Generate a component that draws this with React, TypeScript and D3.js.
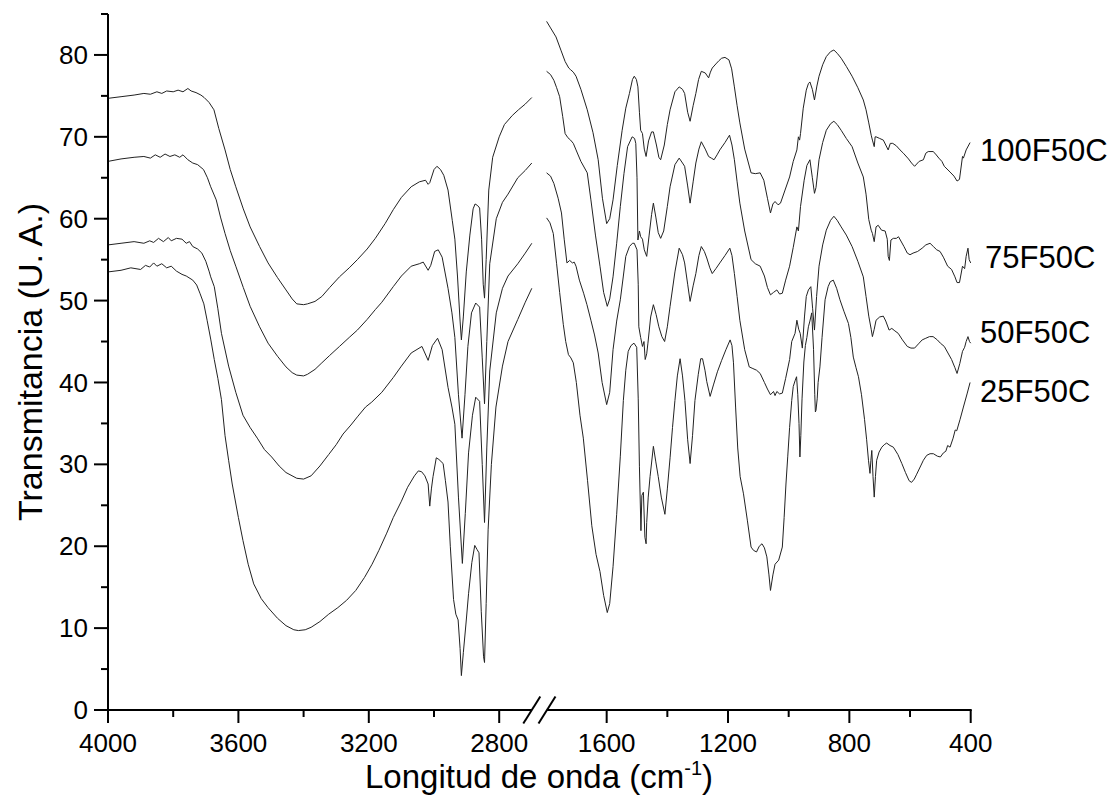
import React from "react";
import * as d3 from "d3";

// ---------- data (wavenumber cm-1, transmittance U.A.) ----------
const seriesNames = ["100F50C", "75F50C", "50F50C", "25F50C"];

const s100Left: [number, number][] = [[4000,74.7],[3960,74.9],[3920,75.1],[3890,75.3],[3870,75.2],[3850,75.5],[3835,75.3],[3820,75.6],[3800,75.5],[3785,75.7],[3770,75.5],[3755,75.9],[3745,75.6],[3730,75.4],[3715,75.1],[3705,74.8],[3690,74.2],[3675,73.3],[3660,71.0],[3641,68.4],[3625,66.0],[3608,63.9],[3585,61.2],[3564,59.0],[3535,56.6],[3509,54.6],[3480,52.8],[3454,51.3],[3435,50.2],[3421,49.6],[3400,49.5],[3388,49.6],[3365,49.9],[3344,50.5],[3320,51.6],[3290,52.9],[3260,54.0],[3235,55.0],[3205,56.3],[3180,57.6],[3150,59.4],[3125,61.1],[3100,62.6],[3070,63.9],[3045,64.5],[3026,64.7],[3018,64.2],[3013,64.4],[3000,66.0],[2991,66.4],[2980,66.0],[2970,65.3],[2957,63.5],[2944,59.8],[2936,57.5],[2928,53.0],[2920,47.5],[2916,45.2],[2910,48.0],[2901,53.5],[2890,58.0],[2880,61.2],[2874,61.8],[2866,61.6],[2860,61.3],[2854,57.5],[2849,52.0],[2845,50.3],[2840,55.0],[2832,63.5],[2820,67.5],[2800,70.0],[2784,71.5],[2760,72.6],[2741,73.3],[2720,74.0],[2700,74.8]];
const s75Left: [number, number][] = [[4000,67.0],[3960,67.3],[3920,67.5],[3890,67.6],[3870,67.4],[3855,67.8],[3840,67.5],[3825,67.9],[3810,67.6],[3795,67.8],[3780,67.5],[3770,67.8],[3755,67.2],[3740,66.8],[3725,66.6],[3707,66.0],[3695,65.0],[3685,63.9],[3668,62.3],[3655,60.2],[3641,58.2],[3625,56.1],[3608,54.2],[3585,51.6],[3564,49.3],[3535,46.8],[3509,44.8],[3480,43.2],[3454,41.9],[3435,41.2],[3421,40.9],[3400,40.8],[3388,41.0],[3365,41.6],[3344,42.4],[3320,43.3],[3290,44.4],[3260,45.5],[3235,46.4],[3205,47.7],[3180,48.9],[3160,49.8],[3125,51.7],[3100,53.0],[3070,54.2],[3045,54.5],[3033,54.7],[3018,53.7],[3010,54.3],[2998,56.0],[2987,56.2],[2975,55.3],[2957,51.5],[2945,48.5],[2936,45.5],[2925,38.5],[2914,33.2],[2905,38.5],[2896,44.4],[2885,48.5],[2872,49.7],[2860,49.2],[2852,43.0],[2845,37.4],[2838,45.0],[2829,54.5],[2809,60.0],[2790,62.0],[2773,63.0],[2743,65.0],[2720,65.9],[2700,66.8]];
const s50Left: [number, number][] = [[4000,56.8],[3960,57.0],[3920,57.2],[3890,57.0],[3872,57.3],[3860,57.1],[3845,57.6],[3830,57.2],[3815,57.7],[3806,57.3],[3790,57.6],[3773,57.5],[3760,57.0],[3750,57.2],[3740,56.6],[3725,56.3],[3712,55.8],[3700,54.8],[3690,53.6],[3685,52.9],[3674,51.7],[3663,49.0],[3652,46.0],[3630,42.0],[3608,38.8],[3586,36.0],[3564,34.5],[3542,33.2],[3520,31.8],[3498,30.9],[3475,29.8],[3454,29.0],[3421,28.3],[3400,28.2],[3377,28.6],[3350,29.8],[3323,31.2],[3300,32.4],[3279,33.7],[3255,34.8],[3235,35.8],[3210,37.0],[3191,37.6],[3160,38.8],[3125,40.6],[3100,42.0],[3070,43.6],[3037,44.4],[3018,42.7],[3005,44.5],[2989,45.4],[2975,44.0],[2957,39.4],[2945,37.0],[2936,34.9],[2925,26.0],[2913,17.9],[2904,24.0],[2894,31.4],[2882,36.0],[2872,38.2],[2860,37.7],[2852,30.0],[2845,22.9],[2838,32.0],[2829,41.4],[2809,48.5],[2790,51.5],[2773,53.0],[2743,54.5],[2720,55.8],[2700,57.0]];
const s25Left: [number, number][] = [[4000,53.5],[3960,53.7],[3930,54.0],[3900,53.8],[3885,54.3],[3872,54.1],[3860,54.6],[3850,54.2],[3835,54.5],[3820,54.0],[3806,54.2],[3790,53.6],[3773,53.2],[3760,53.0],[3740,52.5],[3728,51.9],[3718,50.9],[3706,49.6],[3696,47.6],[3685,45.3],[3674,42.8],[3663,40.5],[3652,37.9],[3641,33.5],[3630,30.5],[3619,27.6],[3600,23.5],[3586,20.7],[3570,17.8],[3553,15.4],[3530,13.6],[3509,12.5],[3480,11.2],[3454,10.3],[3430,9.8],[3416,9.7],[3395,9.8],[3377,10.1],[3350,10.8],[3323,11.7],[3295,12.5],[3268,13.4],[3240,14.6],[3213,16.2],[3190,17.8],[3169,19.5],[3145,21.6],[3125,23.5],[3100,25.5],[3081,27.2],[3060,28.6],[3048,29.2],[3038,29.1],[3028,28.6],[3018,27.6],[3013,24.9],[3008,27.0],[3003,28.5],[2993,30.8],[2985,30.6],[2972,30.1],[2965,28.0],[2957,25.4],[2950,20.0],[2940,13.5],[2933,11.7],[2926,11.0],[2920,7.5],[2916,4.2],[2910,7.0],[2902,10.5],[2894,14.2],[2884,18.0],[2875,20.1],[2868,19.6],[2862,19.2],[2855,12.0],[2848,6.5],[2845,5.8],[2840,13.0],[2834,22.0],[2824,30.0],[2810,37.0],[2790,42.0],[2773,45.0],[2743,47.7],[2720,49.8],[2700,51.5]];

const s100Right: [number, number][] = [[1798,84.1],[1785,83.3],[1767,82.2],[1750,80.5],[1737,79.2],[1725,78.4],[1719,78.2],[1710,77.9],[1701,77.4],[1685,75.8],[1664,73.3],[1645,70.5],[1628,67.2],[1614,62.5],[1600,59.4],[1590,60.0],[1579,62.3],[1565,66.5],[1549,70.8],[1537,73.5],[1525,75.3],[1515,77.0],[1509,77.4],[1502,77.0],[1497,76.1],[1492,73.0],[1488,70.8],[1482,70.4],[1476,68.5],[1470,67.6],[1462,69.5],[1452,70.6],[1446,70.6],[1436,69.0],[1428,67.5],[1422,67.2],[1410,69.0],[1400,71.5],[1391,73.3],[1375,75.5],[1361,76.1],[1350,75.8],[1343,75.3],[1333,73.0],[1325,71.9],[1315,73.8],[1306,75.3],[1297,77.0],[1288,78.0],[1275,77.8],[1264,77.2],[1258,77.9],[1252,78.4],[1240,78.9],[1230,79.3],[1221,79.6],[1210,79.7],[1197,79.4],[1188,78.3],[1179,76.1],[1170,73.8],[1161,71.7],[1145,68.5],[1124,65.6],[1110,65.5],[1094,65.6],[1082,64.7],[1070,62.5],[1060,60.7],[1052,61.8],[1045,62.1],[1035,61.7],[1027,61.9],[1012,63.5],[997,65.1],[985,67.0],[973,68.4],[968,70.0],[964,69.6],[961,70.4],[952,73.5],[942,75.7],[935,76.5],[930,76.7],[922,75.8],[915,74.5],[907,76.2],[900,77.4],[888,78.8],[876,79.8],[862,80.4],[851,80.6],[840,80.2],[827,79.6],[810,78.6],[791,77.4],[772,76.0],[754,74.5],[745,73.3],[736,71.7],[728,70.2],[724,69.6],[718,68.8],[715,70.0],[712,70.0],[700,69.8],[688,69.6],[680,69.0],[672,68.4],[665,69.2],[657,69.2],[645,68.9],[633,68.4],[622,68.0],[605,67.3],[595,66.8],[585,66.4],[570,67.0],[556,67.2],[548,68.0],[540,68.2],[524,68.2],[518,68.0],[505,67.4],[495,67.0],[487,66.4],[468,65.7],[455,65.2],[445,64.6],[437,64.8],[427,67.6],[424,67.4],[415,68.4],[402,69.3]];
const s75Right: [number, number][] = [[1798,78.0],[1785,77.6],[1774,76.9],[1765,76.0],[1755,74.9],[1745,72.5],[1737,70.4],[1728,69.9],[1719,69.6],[1710,69.2],[1701,68.4],[1685,67.0],[1664,65.6],[1652,62.3],[1637,58.0],[1622,54.2],[1610,51.0],[1598,49.3],[1590,50.2],[1579,52.9],[1567,57.0],[1555,61.5],[1543,65.5],[1531,68.8],[1516,70.0],[1508,69.8],[1504,69.2],[1500,65.0],[1497,57.4],[1492,58.5],[1488,57.8],[1482,57.5],[1476,56.2],[1468,55.4],[1460,58.0],[1452,60.5],[1446,61.9],[1438,60.2],[1430,58.3],[1422,57.6],[1412,58.5],[1400,61.5],[1391,63.9],[1375,66.6],[1361,67.4],[1350,66.8],[1343,66.4],[1333,64.0],[1325,61.9],[1315,64.5],[1306,66.8],[1296,68.5],[1288,69.4],[1275,68.5],[1264,67.6],[1255,67.4],[1246,67.2],[1236,67.8],[1227,68.4],[1210,69.3],[1195,70.2],[1187,69.0],[1179,67.2],[1170,64.5],[1161,61.9],[1145,58.5],[1124,55.0],[1110,54.5],[1094,54.2],[1080,53.0],[1070,51.6],[1060,50.7],[1050,51.0],[1039,51.3],[1030,50.8],[1021,50.9],[1010,52.5],[997,54.2],[985,56.5],[973,59.0],[968,58.5],[961,61.5],[949,64.7],[940,66.5],[930,67.2],[922,65.0],[915,63.1],[910,63.8],[900,67.2],[888,69.3],[876,70.8],[862,71.6],[851,71.9],[840,71.5],[827,70.8],[810,69.8],[791,68.8],[772,66.8],[754,65.1],[745,63.0],[736,59.9],[728,58.6],[724,58.2],[718,57.2],[712,59.0],[705,59.2],[694,58.6],[682,58.5],[675,57.5],[672,55.4],[668,54.9],[663,57.4],[655,57.6],[645,57.6],[638,57.8],[620,56.6],[609,55.8],[600,55.6],[590,55.8],[575,56.0],[560,56.4],[548,56.8],[534,57.0],[523,56.6],[512,56.2],[501,56.0],[490,55.3],[476,54.2],[463,53.8],[452,52.9],[445,52.2],[437,52.2],[427,54.2],[420,53.9],[415,55.4],[409,56.4],[405,55.0],[400,54.6]];
const s50Right: [number, number][] = [[1798,65.6],[1785,65.2],[1774,64.3],[1760,62.5],[1749,60.7],[1740,57.5],[1731,54.6],[1722,54.9],[1713,54.6],[1707,54.7],[1701,54.2],[1690,52.5],[1676,50.9],[1665,49.5],[1652,47.6],[1640,45.8],[1628,43.6],[1615,40.0],[1600,37.3],[1590,38.8],[1579,44.0],[1567,47.5],[1555,50.1],[1545,53.0],[1537,55.4],[1525,56.6],[1515,57.0],[1509,57.0],[1500,56.2],[1496,52.0],[1494,46.8],[1488,45.5],[1482,44.4],[1477,45.0],[1473,42.8],[1468,43.5],[1464,44.8],[1455,48.0],[1446,49.5],[1437,48.3],[1428,46.8],[1418,45.6],[1409,45.0],[1400,46.8],[1391,49.3],[1375,53.5],[1361,56.4],[1350,55.6],[1343,54.6],[1333,52.0],[1325,49.9],[1315,51.8],[1306,53.3],[1296,55.5],[1288,56.6],[1278,56.0],[1270,55.2],[1260,54.0],[1252,53.3],[1240,53.9],[1227,54.6],[1210,55.5],[1194,56.4],[1187,55.5],[1179,53.3],[1170,50.5],[1161,47.6],[1145,44.0],[1130,41.9],[1118,41.7],[1106,41.5],[1094,41.1],[1080,40.0],[1070,39.2],[1060,38.5],[1050,38.9],[1045,38.4],[1039,38.9],[1030,38.6],[1021,38.7],[1010,40.5],[997,42.8],[990,45.0],[979,46.0],[973,47.6],[967,46.5],[962,46.0],[955,44.2],[948,48.0],[942,50.5],[935,51.3],[927,51.7],[921,49.0],[915,46.4],[908,50.5],[900,54.2],[888,56.8],[876,58.6],[862,59.8],[851,60.3],[840,59.8],[827,59.0],[810,58.0],[791,56.6],[772,54.8],[754,52.9],[745,50.5],[736,48.1],[728,46.5],[724,45.6],[718,46.5],[712,47.6],[700,48.0],[688,48.1],[680,47.5],[669,46.4],[660,46.6],[650,46.3],[639,46.0],[625,45.2],[609,44.4],[597,44.2],[585,44.2],[570,44.8],[560,45.2],[548,45.4],[536,45.6],[524,45.6],[510,45.2],[500,44.8],[487,44.4],[475,43.6],[463,42.8],[452,41.8],[445,41.1],[436,42.3],[427,43.8],[420,44.3],[415,45.0],[409,45.6],[404,45.0],[400,44.8]];
const s25Right: [number, number][] = [[1798,60.1],[1787,59.5],[1776,58.2],[1765,54.5],[1755,51.0],[1743,47.1],[1735,45.0],[1726,43.4],[1718,43.0],[1710,42.4],[1700,40.0],[1688,36.0],[1677,33.2],[1663,28.0],[1649,22.5],[1635,19.0],[1622,16.9],[1610,14.0],[1598,11.9],[1590,13.0],[1579,17.5],[1567,23.9],[1555,31.0],[1545,37.8],[1537,41.5],[1529,43.8],[1520,44.5],[1510,44.8],[1501,44.3],[1496,38.0],[1492,29.7],[1487,21.9],[1484,26.2],[1479,26.6],[1474,21.1],[1470,20.3],[1468,22.9],[1463,26.0],[1457,28.5],[1446,32.2],[1438,30.3],[1430,28.5],[1420,26.0],[1408,23.9],[1400,27.0],[1391,30.8],[1383,34.5],[1375,37.8],[1367,40.8],[1358,42.9],[1350,40.8],[1342,37.8],[1333,33.0],[1325,30.1],[1317,33.5],[1309,37.8],[1298,41.0],[1290,42.9],[1284,42.9],[1276,41.5],[1270,40.1],[1259,38.3],[1248,39.7],[1235,41.3],[1221,42.7],[1207,44.0],[1193,45.2],[1187,44.5],[1182,42.4],[1175,37.0],[1168,32.0],[1160,28.5],[1149,26.4],[1136,23.1],[1124,19.9],[1116,19.5],[1106,19.3],[1097,20.0],[1088,20.3],[1080,19.8],[1072,18.7],[1065,16.5],[1060,14.6],[1052,16.5],[1045,17.8],[1033,18.3],[1021,19.9],[1015,23.5],[1009,27.6],[1003,31.0],[997,34.5],[990,37.8],[985,39.5],[979,40.2],[974,40.7],[970,38.5],[966,35.0],[963,30.9],[960,33.5],[956,38.0],[950,42.5],[945,44.5],[940,45.5],[935,46.8],[930,47.5],[924,48.5],[918,44.0],[914,38.5],[912,36.4],[910,36.6],[906,38.0],[903,40.0],[897,41.9],[890,45.5],[880,50.1],[870,51.7],[863,52.3],[853,52.5],[842,51.5],[831,50.1],[818,48.7],[803,47.2],[795,45.5],[787,43.1],[778,41.8],[770,40.7],[760,38.5],[750,35.5],[743,33.0],[737,30.5],[732,28.9],[729,30.5],[726,31.7],[722,28.5],[718,26.0],[714,28.5],[710,30.5],[702,31.5],[693,32.1],[685,32.4],[677,32.6],[666,32.3],[655,32.1],[640,31.2],[627,30.1],[615,29.0],[603,28.0],[595,27.8],[586,28.2],[578,28.8],[565,29.8],[556,30.5],[545,31.1],[534,31.3],[523,31.3],[510,31.0],[500,30.9],[490,31.4],[482,31.6],[476,32.3],[468,32.1],[458,33.2],[451,34.2],[446,34.1],[435,35.5],[424,37.0],[412,38.6],[402,40.0]];

const leftSegments = [s100Left, s75Left, s50Left, s25Left];
const rightSegments = [s100Right, s75Right, s50Right, s25Right];

const leftMajorTicks = [4000, 3600, 3200, 2800];
const leftMinorTicks = [3800, 3400, 3000];
const rightMajorTicks = [1600, 1200, 800, 400];
const rightMinorTicks = [1400, 1000, 600];
const yMajorTicks = [0, 10, 20, 30, 40, 50, 60, 70, 80];
const yMinorTicks = [5, 15, 25, 35, 45, 55, 65, 75, 85];

// value level at which each series label is centred
const labelValues = [68.4, 55.4, 46.2, 39.0];

const FONT = "'Liberation Sans', Arial, Helvetica, sans-serif";

export default function App() {
  const W = 1117, H = 797;
  const y = d3.scaleLinear().domain([0, 85]).range([710, 14]);
  const xL = d3.scaleLinear().domain([4000, 2700]).range([108, 531.8]);
  const xR = d3.scaleLinear().domain([1800, 400]).range([546, 970.7]);
  const lineL = d3.line<[number, number]>().x(d => xL(d[0])).y(d => y(d[1]));
  const lineR = d3.line<[number, number]>().x(d => xR(d[0])).y(d => y(d[1]));
  const y0 = y(0);
  const axisColor = "#000";
  const labelX = [980, 985, 980, 980];

  return (
    <svg width={W} height={H} style={{ position: "absolute", left: 0, top: 0, background: "#fff" }} fontFamily={FONT}>
      <rect x={0} y={0} width={W} height={H} fill="#fff" />
      {/* spectra */}
      {leftSegments.map((s, i) => (
        <path key={"l" + i} d={lineL(s) || ""} fill="none" stroke="#222" strokeWidth={1} />
      ))}
      {rightSegments.map((s, i) => (
        <path key={"r" + i} d={lineR(s) || ""} fill="none" stroke="#222" strokeWidth={1} />
      ))}

      {/* y axis */}
      <line x1={108} x2={108} y1={y(85)} y2={y0 + 1} stroke={axisColor} strokeWidth={2} />
      {yMajorTicks.map(t => (
        <g key={"ym" + t}>
          <line x1={94} x2={108} y1={y(t)} y2={y(t)} stroke={axisColor} strokeWidth={2} />
          <text x={88} y={y(t)} dy="0.35em" textAnchor="end" fontSize={26}>{t}</text>
        </g>
      ))}
      {yMinorTicks.map(t => (
        <line key={"yn" + t} x1={101} x2={108} y1={y(t)} y2={y(t)} stroke={axisColor} strokeWidth={2} />
      ))}

      {/* x axis, broken */}
      <line x1={107} x2={xL(2700)} y1={y0} y2={y0} stroke={axisColor} strokeWidth={2} />
      <line x1={xR(1800) + 1} x2={xR(400) + 1} y1={y0} y2={y0} stroke={axisColor} strokeWidth={2} />
      <line x1={xL(2700) - 8.5} y1={y0 + 13.5} x2={xL(2700) + 8.5} y2={y0 - 13.5} stroke={axisColor} strokeWidth={2} />
      <line x1={xR(1800) - 7.5} y1={y0 + 13.5} x2={xR(1800) + 9.5} y2={y0 - 13.5} stroke={axisColor} strokeWidth={2} />
      {leftMajorTicks.map(t => (
        <g key={"xl" + t}>
          <line x1={xL(t)} x2={xL(t)} y1={y0} y2={y0 + 13} stroke={axisColor} strokeWidth={2} />
          <text x={xL(t)} y={752} textAnchor="middle" fontSize={26}>{t}</text>
        </g>
      ))}
      {leftMinorTicks.map(t => (
        <line key={"xln" + t} x1={xL(t)} x2={xL(t)} y1={y0} y2={y0 + 7} stroke={axisColor} strokeWidth={2} />
      ))}
      {rightMajorTicks.map(t => (
        <g key={"xr" + t}>
          <line x1={xR(t)} x2={xR(t)} y1={y0} y2={y0 + 13} stroke={axisColor} strokeWidth={2} />
          <text x={xR(t)} y={752} textAnchor="middle" fontSize={26}>{t}</text>
        </g>
      ))}
      {rightMinorTicks.map(t => (
        <line key={"xrn" + t} x1={xR(t)} x2={xR(t)} y1={y0} y2={y0 + 7} stroke={axisColor} strokeWidth={2} />
      ))}

      {/* axis titles */}
      <text x={539} y={788} textAnchor="middle" fontSize={33}>
        Longitud de onda (cm<tspan fontSize={20} dy={-13}>-1</tspan><tspan dy={13}>)</tspan>
      </text>
      <text transform={`translate(42, ${y(42.5)}) rotate(-90)`} textAnchor="middle" fontSize={34}>
        Transmitancia (U. A.)
      </text>

      {/* series labels */}
      {seriesNames.map((n, i) => (
        <text key={n} x={labelX[i]} y={y(labelValues[i])} dy="0.36em" fontSize={31}>{n}</text>
      ))}
    </svg>
  );
}
